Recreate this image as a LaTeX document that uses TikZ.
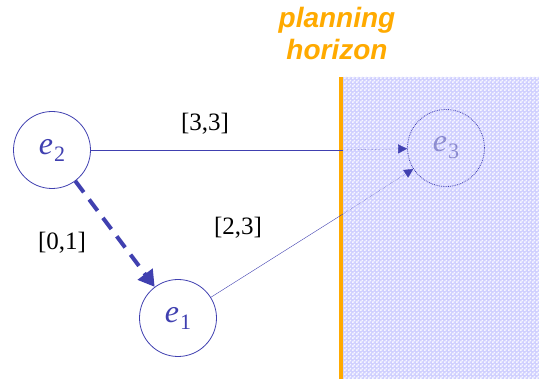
\documentclass[tikz,border=0pt]{standalone}
\usepackage{fontspec}
\setmainfont{Liberation Serif}
\newfontfamily\horizonfont{Liberation Sans}
\usepackage{tikz}
\usetikzlibrary{arrows.meta,patterns}
\definecolor{evblue}{RGB}{64,64,176}
\definecolor{horange}{RGB}{255,170,0}
\definecolor{hshade}{RGB}{208,208,255}
\pgfdeclarepatternformonly{checks}{\pgfpointorigin}{\pgfpoint{4pt}{4pt}}{\pgfpoint{4pt}{4pt}}{
  \pgfpathrectangle{\pgfpointorigin}{\pgfpoint{2pt}{2pt}}
  \pgfpathrectangle{\pgfpoint{2pt}{2pt}}{\pgfpoint{2pt}{2pt}}
  \pgfusepath{fill}}
\newcommand{\ev}[1]{\textit{e}\kern1pt\raisebox{-7pt}{\fontsize{22}{22}\selectfont #1}}
\tikzset{
  event/.style={circle,draw=evblue,line width=0.8pt,minimum size=77pt,inner sep=0pt,
    text=evblue,font=\fontsize{32}{34}\selectfont},
  bound/.style={font=\fontsize{25}{28}\selectfont},
}
\begin{document}
\begin{tikzpicture}[x=1pt,y=-1pt]
\useasboundingbox (0,0) rectangle (539,379);
% horizon area
\fill[hshade] (343,77) rectangle (539,379);
\fill[pattern=checks,pattern color=white!85!hshade] (343,77) rectangle (539,379);
\draw[horange,line width=4pt] (341,77) -- (341,379);
\node[horange,font=\horizonfont\bfseries\itshape\fontsize{28}{32}\selectfont,align=center] (title) at (337,33) {planning\\horizon};
% events
\node[event] (e2) at (52,150) {\ev{2}};
\node[event] (e1) at (178,318) {\ev{1}};
\node[event,densely dotted,text=evblue!60] (e3) at (446,148) {\ev{3}};
\coordinate (h1) at (343,150);
\coordinate (h2) at (343,214);
% constraints
\draw[evblue,thin] (e2) -- (h1);
\draw[evblue,thin,densely dotted,-{Triangle[length=9pt,width=9pt]}] (h1) -- (e3);
\draw[evblue,thin] (e1) -- (h2);
\draw[evblue,thin,densely dotted,-{Triangle[length=9pt,width=9pt]}] (h2) -- (e3);
\draw[evblue,line width=4pt,dash pattern=on 14pt off 9pt,-{Triangle[length=16pt,width=18pt]}] (e2) -- (e1);
\node[bound] (l33) at (205,124) {[3,3]};
\node[bound] (l23) at (238,228) {[2,3]};
\node[bound] (l01) at (62,243) {[0,1]};
\end{tikzpicture}
\end{document}
